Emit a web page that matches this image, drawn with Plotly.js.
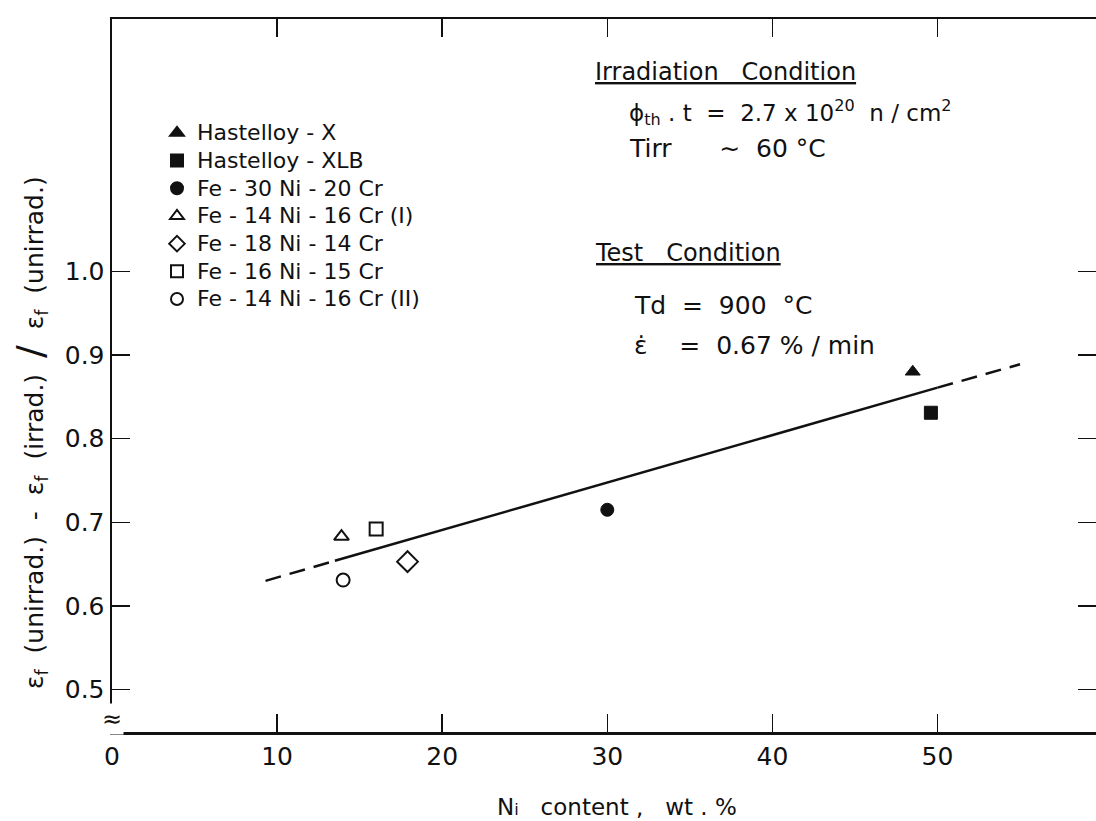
<!DOCTYPE html>
<html>
<head>
<meta charset="utf-8">
<script src="https://cdn.plot.ly/plotly-3.0.1.min.js"></script>
<style>html,body{margin:0;padding:0;background:#fff;}#chart{width:1096px;height:821px;}</style>
</head>
<body>
<div id="chart"></div>
<script>
// ---- data ----
const seriesNames = ["Hastelloy - X", "Hastelloy - XLB", "Fe - 30 Ni - 20 Cr",
  "Fe - 14 Ni - 16 Cr (I)", "Fe - 18 Ni - 14 Cr", "Fe - 16 Ni - 15 Cr", "Fe - 14 Ni - 16 Cr (II)"];
const niContent = [48.5, 49.6, 30.0, 13.9, 17.9, 16.0, 14.0];
const ratio     = [0.880, 0.831, 0.715, 0.683, 0.653, 0.692, 0.631];
const markerSymbols = ["triangle-up", "square", "circle", "triangle-up-open", "diamond-open", "square-open", "circle-open"];

// trend line: dashed extrapolation, solid range, dashed extrapolation
const fitDashLeftX  = [9.3, 13.5];
const fitDashLeftY  = [0.630, 0.654];
const fitSolidX     = [13.5, 50.0];
const fitSolidY     = [0.654, 0.861];
const fitDashRightX = [50.0, 55.0];
const fitDashRightY = [0.861, 0.889];

const xTickVals = [0, 10, 20, 30, 40, 50];
const yTickVals = [0.5, 0.6, 0.7, 0.8, 0.9, 1.0];
const yTickText = ["0.5", "0.6", "0.7", "0.8", "0.9", "1.0"];

const FONT = "DejaVu Sans, Liberation Sans, sans-serif";
const INK = "#111";

const traces = [];
seriesNames.forEach((name, i) => {
  const filled = !markerSymbols[i].endsWith("open");
  traces.push({
    type: "scatter", mode: "markers",
    name: "<span style='font-size:22px'>" + name + "</span>",
    x: [niContent[i]], y: [ratio[i]],
    marker: {
      symbol: markerSymbols[i],
      size: markerSymbols[i].startsWith("diamond") ? 16 : 13,
      color: INK,
      line: {color: INK, width: filled ? 1 : 2}
    }
  });
});
[[fitDashLeftX, fitDashLeftY, "16px,9px"], [fitSolidX, fitSolidY, "solid"], [fitDashRightX, fitDashRightY, "16px,9px"]]
  .forEach(([xs, ys, d]) => traces.push({
    type: "scatter", mode: "lines", x: xs, y: ys, showlegend: false, hoverinfo: "skip",
    line: {color: INK, width: 2.5, dash: d}
  }));

const L = 112, R = 1096, T = 19, B = 732;
const px = v => (v - L) / (R - L);
const py = v => (B - v) / (B - T);

function note(text, x, y, size, extra) {
  return Object.assign({
    text: text, xref: "paper", yref: "paper", x: px(x), y: py(y),
    xanchor: "left", yanchor: "middle", showarrow: false,
    font: {family: FONT, size: size, color: INK}
  }, extra || {});
}

const layout = {
  width: 1096, height: 821,
  margin: {l: L, r: 1096 - R, t: T, b: 821 - B},
  paper_bgcolor: "#fff", plot_bgcolor: "#fff",
  font: {family: FONT, color: INK},
  showlegend: true,
  legend: {
    x: px(157), y: py(114), xanchor: "left", yanchor: "top",
    bgcolor: "rgba(0,0,0,0)", font: {family: FONT, size: 19, color: INK},
    itemsizing: "constant", itemclick: false
  },
  xaxis: {
    range: [0, 59.6], tickvals: xTickVals, ticktext: xTickVals.map(String),
    ticks: "inside", ticklen: 18, tickwidth: 1.5, tickcolor: INK,
    showline: true, linewidth: 2.5, linecolor: INK, mirror: "ticks",
    showgrid: false, zeroline: false,
    tickfont: {family: FONT, size: 25, color: INK}
  },
  yaxis: {
    range: [0.4493, 1.3018], tickvals: yTickVals, ticktext: yTickText,
    ticks: "inside", ticklen: 18, tickwidth: 1.5, tickcolor: INK,
    showline: true, linewidth: 2.5, linecolor: INK, mirror: "ticks",
    showgrid: false, zeroline: false,
    tickfont: {family: FONT, size: 25, color: INK}
  },
  annotations: [
    note("N<span style='font-size:16px'>i</span>   content ,   wt . %", 617, 807, 23, {xanchor: "center"}),
    note("ε<sub>f</sub>  (unirrad.)  -  ε<sub>f</sub>  (irrad.)  <span style='font-size:38px'>/</span>  ε<sub>f</sub>  (unirrad.)",
         30, 433, 25, {xanchor: "center", textangle: -90}),
    note("<u>Irradiation   Condition</u>", 593, 72, 24),
    note("ϕ<sub>th</sub> . t  =  2.7 x 10<sup>20</sup>  n / cm<sup>2</sup>", 627, 112, 23),
    note("Tirr      ∼  60 °C", 627, 148, 25),
    note("<u>Test   Condition</u>", 593, 253, 24),
    note("Td  =  900  °C", 632, 305, 25),
    note("ε̇    =  0.67 % / min", 632, 345, 25),
    note("≈", 112, 719, 24, {xanchor: "center", bgcolor: "#fff"})
  ]
};

Plotly.newPlot("chart", traces, layout, {displayModeBar: false, staticPlot: true});
</script>
</body>
</html>
